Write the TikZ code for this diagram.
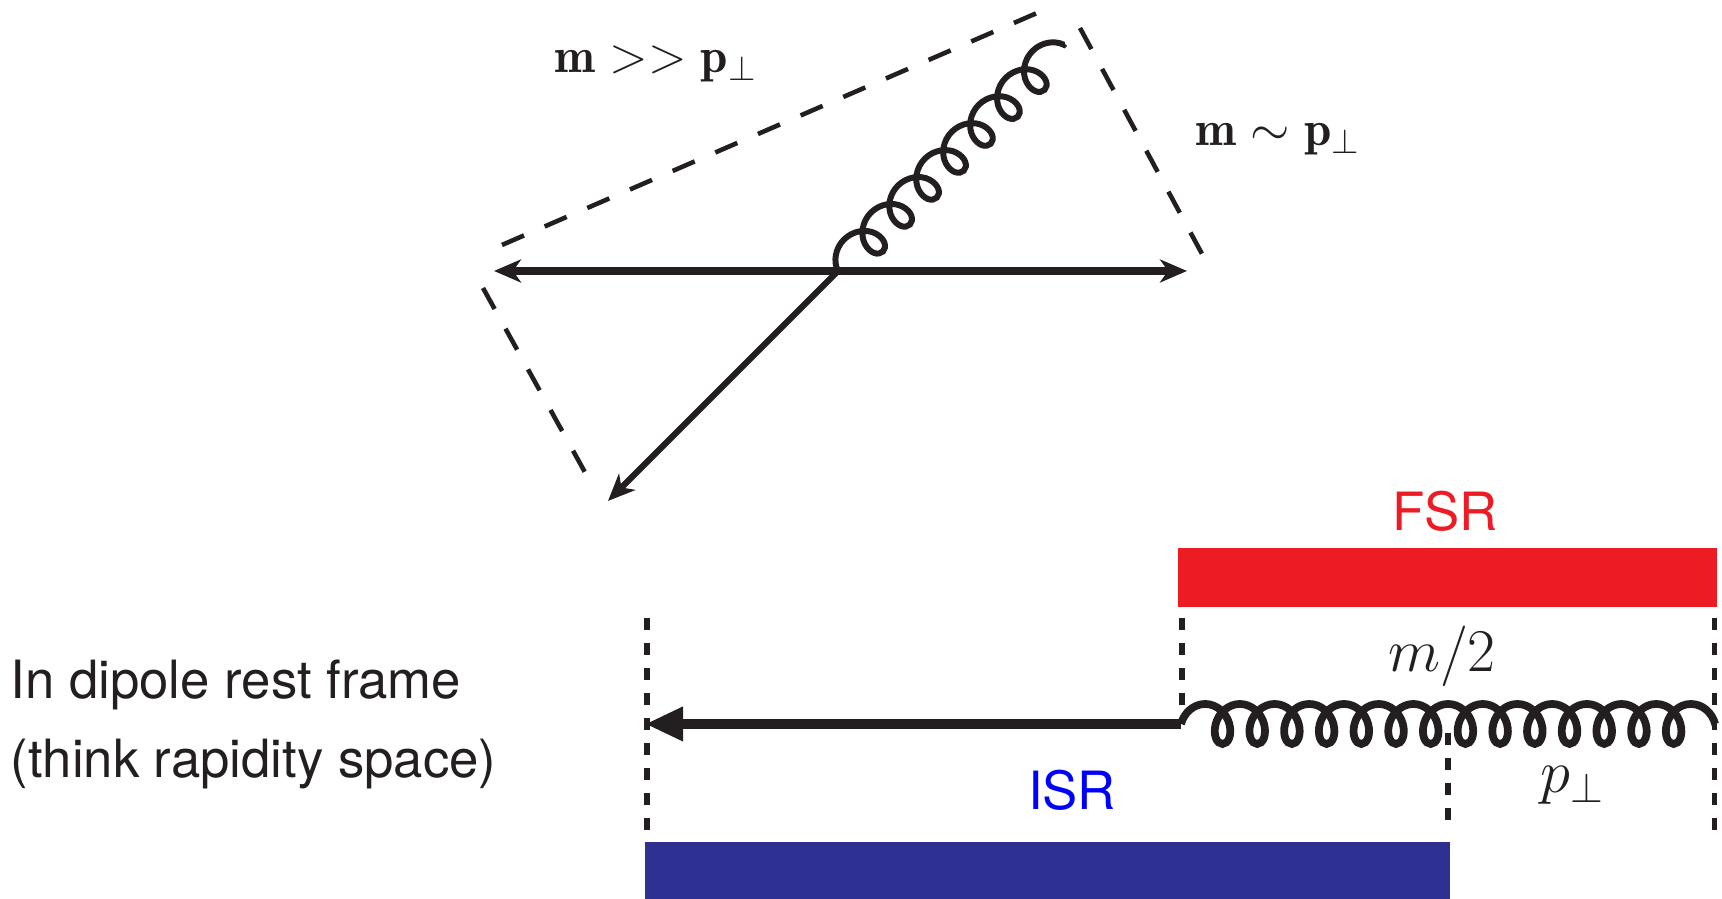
\documentclass[tikz,border=0pt]{standalone}
\usepackage{fontspec}
\usepackage{amsmath}
\setsansfont{TeX Gyre Heros}
\usetikzlibrary{arrows.meta,decorations.pathmorphing}
\definecolor{inkblack}{RGB}{35,31,32}
\definecolor{fsrred}{RGB}{237,28,36}
\definecolor{isrnavy}{RGB}{46,49,146}
\definecolor{isrblue}{RGB}{0,0,255}
\tikzset{
  momentum/.style={
    draw=inkblack,
    line width=2.1pt,
    -{Stealth[length=2.7mm,width=2.3mm,inset=0.8mm]}
  },
  gluontop/.style={
    draw=inkblack,
    line width=1.7pt,
    decorate,
    decoration={coil,aspect=0.944,amplitude=1.8mm,segment length=3.81mm}
  },
  gluonbottom/.style={
    draw=inkblack,
    line width=2.2pt,
    decorate,
    decoration={coil,aspect=0.775,amplitude=2.0mm,segment length=3.47mm}
  },
  dipolearrow/.style={
    draw=inkblack,
    line width=2.85pt,
    -{Triangle[length=3.8mm,width=3.2mm]}
  },
  framedash/.style={
    draw=inkblack,
    line width=1.3pt,
    dash pattern=on 2.4mm off 2.25mm
  },
  rangedash/.style={
    draw=inkblack,
    line width=1.5pt,
    dash pattern=on 1.2mm off 1.3mm
  },
  sflabel/.style={
    font=\sffamily\fontsize{15}{18}\selectfont,
    anchor=base,
    inner sep=0pt
  },
  mathlabel/.style={
    font=\fontsize{14}{17}\selectfont,
    text=inkblack,
    anchor=base,
    inner sep=0pt
  }
}

\begin{document}
\begin{tikzpicture}[x=1cm,y=1cm]
  \useasboundingbox (0,0) rectangle (17.22,8.99);

  % Emission vertex in the dipole rest frame, with the two partons and the gluon.
  \coordinate (V) at (8.38,6.28);
  \coordinate (Lq) at (4.94,6.28);
  \coordinate (Rq) at (11.87,6.28);
  \coordinate (Dq) at (6.08,3.98);
  \coordinate (Gend) at (10.65,8.55);

  % Dashed frame round the emission: three sides only, gaps at the corners.
  \coordinate (A1) at (5.02,6.54);
  \coordinate (A2) at (10.37,8.86);
  \coordinate (B1) at (10.80,8.71);
  \coordinate (B2) at (12.08,6.34);
  \coordinate (C1) at (4.83,6.11);
  \coordinate (C2) at (5.92,4.14);
  \draw[framedash] (A1) -- (A2);
  \draw[framedash] (B1) -- (B2);
  \draw[framedash] (C1) -- (C2);

  \draw[momentum] (V) -- (Lq);
  \draw[momentum] (V) -- (Rq);
  \draw[momentum,line width=1.8pt] (V) -- (Dq);
  \draw[gluontop] (V) -- (Gend);

  \node[mathlabel] (heavy) at (6.56,8.26) {$\mathbf{m >> p_{\perp}}$};
  \node[mathlabel] (light) at (12.78,7.53) {$\mathbf{m \sim p_{\perp}}$};

  % Rapidity ranges: FSR over the full gluon, ISR up to the p_perp mark.
  \fill[fsrred] (11.78,2.92) rectangle (17.17,3.51);
  \fill[isrnavy] (6.45,0) rectangle (14.50,0.57);
  \node[sflabel,text=fsrred] (fsr) at (14.45,3.68) {FSR};
  \node[sflabel,text=isrblue] (isr) at (10.72,0.89) {ISR};

  \draw[rangedash] (6.47,2.81) -- (6.47,0.69);
  \draw[rangedash] (11.82,2.81) -- (11.82,1.81);
  \draw[rangedash] (17.145,2.81) -- (17.145,0.69);
  \draw[rangedash] (14.48,1.66) -- (14.48,0.69);

  % Dipole axis: quark to the left, gluon to the right.
  \coordinate (S) at (11.81,1.75);
  \coordinate (Tip) at (6.45,1.75);
  \coordinate (E) at (17.165,1.75);
  \draw[dipolearrow] (S) -- (Tip);
  \draw[gluonbottom] (S) -- (E);

  \node[mathlabel,font=\fontsize{16.5}{20}\selectfont] (half) at (14.42,2.27) {$m/2$};
  \node[mathlabel,font=\fontsize{16.5}{20}\selectfont] (pt) at (15.73,1.06) {$p_{\perp}$};

  \node[sflabel,anchor=base west,text=inkblack] (frame) at (0.10,2.00) {In dipole rest frame};
  \node[sflabel,anchor=base west,text=inkblack] (think) at (0.10,1.21) {(think rapidity space)};
\end{tikzpicture}
\end{document}
